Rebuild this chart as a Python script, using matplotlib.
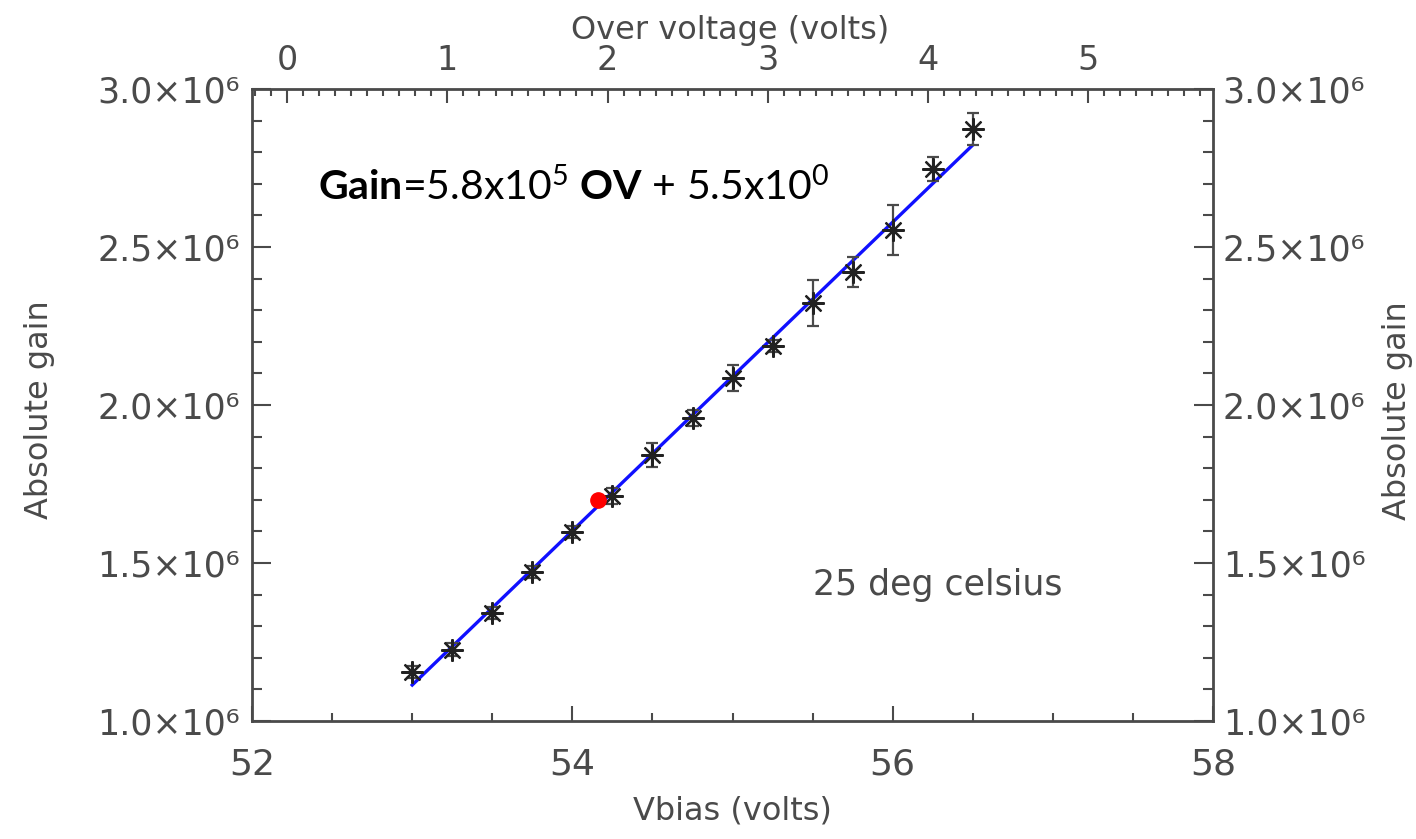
import numpy as np
import matplotlib
matplotlib.use("Agg")
import matplotlib.pyplot as plt
from matplotlib.ticker import MultipleLocator, FuncFormatter

# datos
vbias = [53.0, 53.25, 53.5, 53.75, 54.0, 54.25, 54.5, 54.75, 55.0, 55.25, 55.5, 55.75, 56.0, 56.25, 56.5]
gain = [1.155e6, 1.226e6, 1.342e6, 1.472e6, 1.598e6, 1.712e6, 1.842e6, 1.959e6,
        2.085e6, 2.187e6, 2.323e6, 2.421e6, 2.554e6, 2.747e6, 2.873e6]
gain_err = [0.02e6, 0.02e6, 0.02e6, 0.02e6, 0.02e6, 0.025e6, 0.038e6, 0.025e6,
            0.041e6, 0.02e6, 0.073e6, 0.049e6, 0.08e6, 0.038e6, 0.05e6]
fit_x = [53.0, 56.5]
fit_y = [1.114e6, 2.823e6]
red_x = [54.16]
red_y = [1.701e6]
v_breakdown = 52.22

gris = '#4a4a4a'
plt.rcParams['mathtext.fontset'] = 'custom'
plt.rcParams['mathtext.rm'] = 'Lato'
plt.rcParams['mathtext.it'] = 'Lato'
plt.rcParams['mathtext.bf'] = 'Lato:bold'

fmt_gain = FuncFormatter(lambda v, p: f"{v/1e6:.1f}×10⁶")

fig = plt.figure(figsize=(14.16, 8.39), dpi=100)
ax = fig.add_axes([0.178, 0.1406, 0.6787, 0.7533])

ax.plot(fit_x, fit_y, color='#1010ff', lw=2.4, zorder=2)
ax.errorbar(vbias, gain, yerr=gain_err, fmt='none', ecolor=gris, elinewidth=1.6,
            capsize=4.5, capthick=1.6, zorder=3)
ax.plot(vbias, gain, ls='none', marker=(8, 2, 0), ms=16, mew=1.6,
        color='#222222', zorder=4)
ax.plot(red_x, red_y, 'o', color='red', ms=11, zorder=5)

ax.set_xlim(52, 58)
ax.set_ylim(1.0e6, 3.0e6)

# ticks estilo IDL, hacia adentro
ax.xaxis.set_major_locator(MultipleLocator(2))
ax.xaxis.set_minor_locator(MultipleLocator(0.5))
ax.yaxis.set_major_locator(MultipleLocator(0.5e6))
ax.yaxis.set_minor_locator(MultipleLocator(0.1e6))
ax.yaxis.set_major_formatter(fmt_gain)
ax.tick_params(axis='x', which='major', direction='in', length=11, width=1.5,
               color=gris, labelsize=26, labelcolor=gris, pad=19, top=False)
ax.tick_params(axis='x', which='minor', direction='in', length=6, width=1.5,
               color=gris, top=False)
ax.tick_params(axis='y', which='major', direction='in', length=14, width=1.5,
               color=gris, labelsize=25, labelcolor=gris, pad=9)
ax.tick_params(axis='y', which='minor', direction='in', length=7, width=1.5,
               color=gris)
for s in ax.spines.values():
    s.set_color(gris)
    s.set_linewidth(2)

ax.set_xlabel('Vbias (volts)', fontsize=23, color=gris)
ax.xaxis.set_label_coords(0.5, -0.118)
ax.set_ylabel('Absolute gain', fontsize=23, color=gris)
ax.yaxis.set_label_coords(-0.205, 0.492)

# eje derecho
ax_r = ax.twinx()
ax_r.set_ylim(ax.get_ylim())
ax_r.yaxis.set_major_locator(MultipleLocator(0.5e6))
ax_r.yaxis.set_minor_locator(MultipleLocator(0.1e6))
ax_r.yaxis.set_major_formatter(fmt_gain)
ax_r.tick_params(which='major', direction='in', length=14, width=1.5,
                 color=gris, labelsize=25, labelcolor=gris, pad=7)
ax_r.tick_params(which='minor', direction='in', length=7, width=1.5, color=gris)
for s in ax_r.spines.values():
    s.set_visible(False)
fig.text(0.9866, 0.511, 'Absolute gain', rotation=90, fontsize=23, color=gris,
         ha='center', va='center')

# eje superior: sobre-voltaje
top = ax.secondary_xaxis('top', functions=(lambda v: v - v_breakdown,
                                           lambda o: o + v_breakdown))
top.xaxis.set_major_locator(MultipleLocator(1))
top.xaxis.set_minor_locator(MultipleLocator(0.1))
top.tick_params(which='major', direction='in', length=10, width=1.5, color=gris,
                labelsize=24, labelcolor=gris, pad=9)
top.tick_params(which='minor', direction='in', length=5, width=1.5, color=gris)
top.spines['top'].set_visible(False)
fig.text(0.5155, 0.964, 'Over voltage (volts)', fontsize=23, color=gris,
         ha='center', va='center')

ax.text(0.0687, 0.824, r"$\mathbf{Gain}$=5.8x10$^{5}$ $\mathbf{OV}$ + 5.5x10$^{0}$",
        transform=ax.transAxes, fontsize=29.5, family='Lato', color='black',
        ha='left', va='baseline')
ax.text(0.584, 0.199, '25 deg celsius', transform=ax.transAxes, fontsize=25,
        color=gris, ha='left', va='baseline')

fig.savefig('out.png', dpi=100)
